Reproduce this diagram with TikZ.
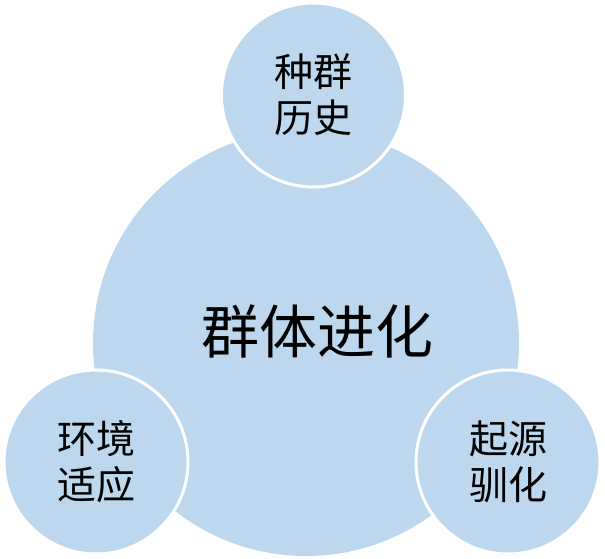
\documentclass[tikz,border=0pt]{standalone}
\usepackage{fontspec}
\setmainfont{Noto Sans CJK SC}
\usepackage{xcolor}
\usepackage{tikz}
\definecolor{bubblefill}{HTML}{BDD7EE}
\newcommand{\smallcjk}{\fontsize{39}{46}\selectfont}

\begin{document}
\begin{tikzpicture}[x=1pt,y=-1pt,
    hub/.style={circle,fill=bubblefill,minimum size=426pt,inner sep=0pt},
    bubble/.style={circle,fill=bubblefill,draw=white,line width=3pt,minimum size=184pt,inner sep=0pt,align=center,font=\smallcjk}]
    \useasboundingbox (0,0) rectangle (605,559);
    \node[hub] (evo) at (306,343) {};
    \node[font=\fontsize{58}{64}\selectfont] (evotext) at (317,331) {群体进化};
    \node[bubble] (hist) at (313.5,95) {种群\\历史};
    \node[bubble] (env) at (96,462) {环境\\适应};
    \node[bubble] (dom) at (508,462) {起源\\驯化};
  \end{tikzpicture}
\end{document}
